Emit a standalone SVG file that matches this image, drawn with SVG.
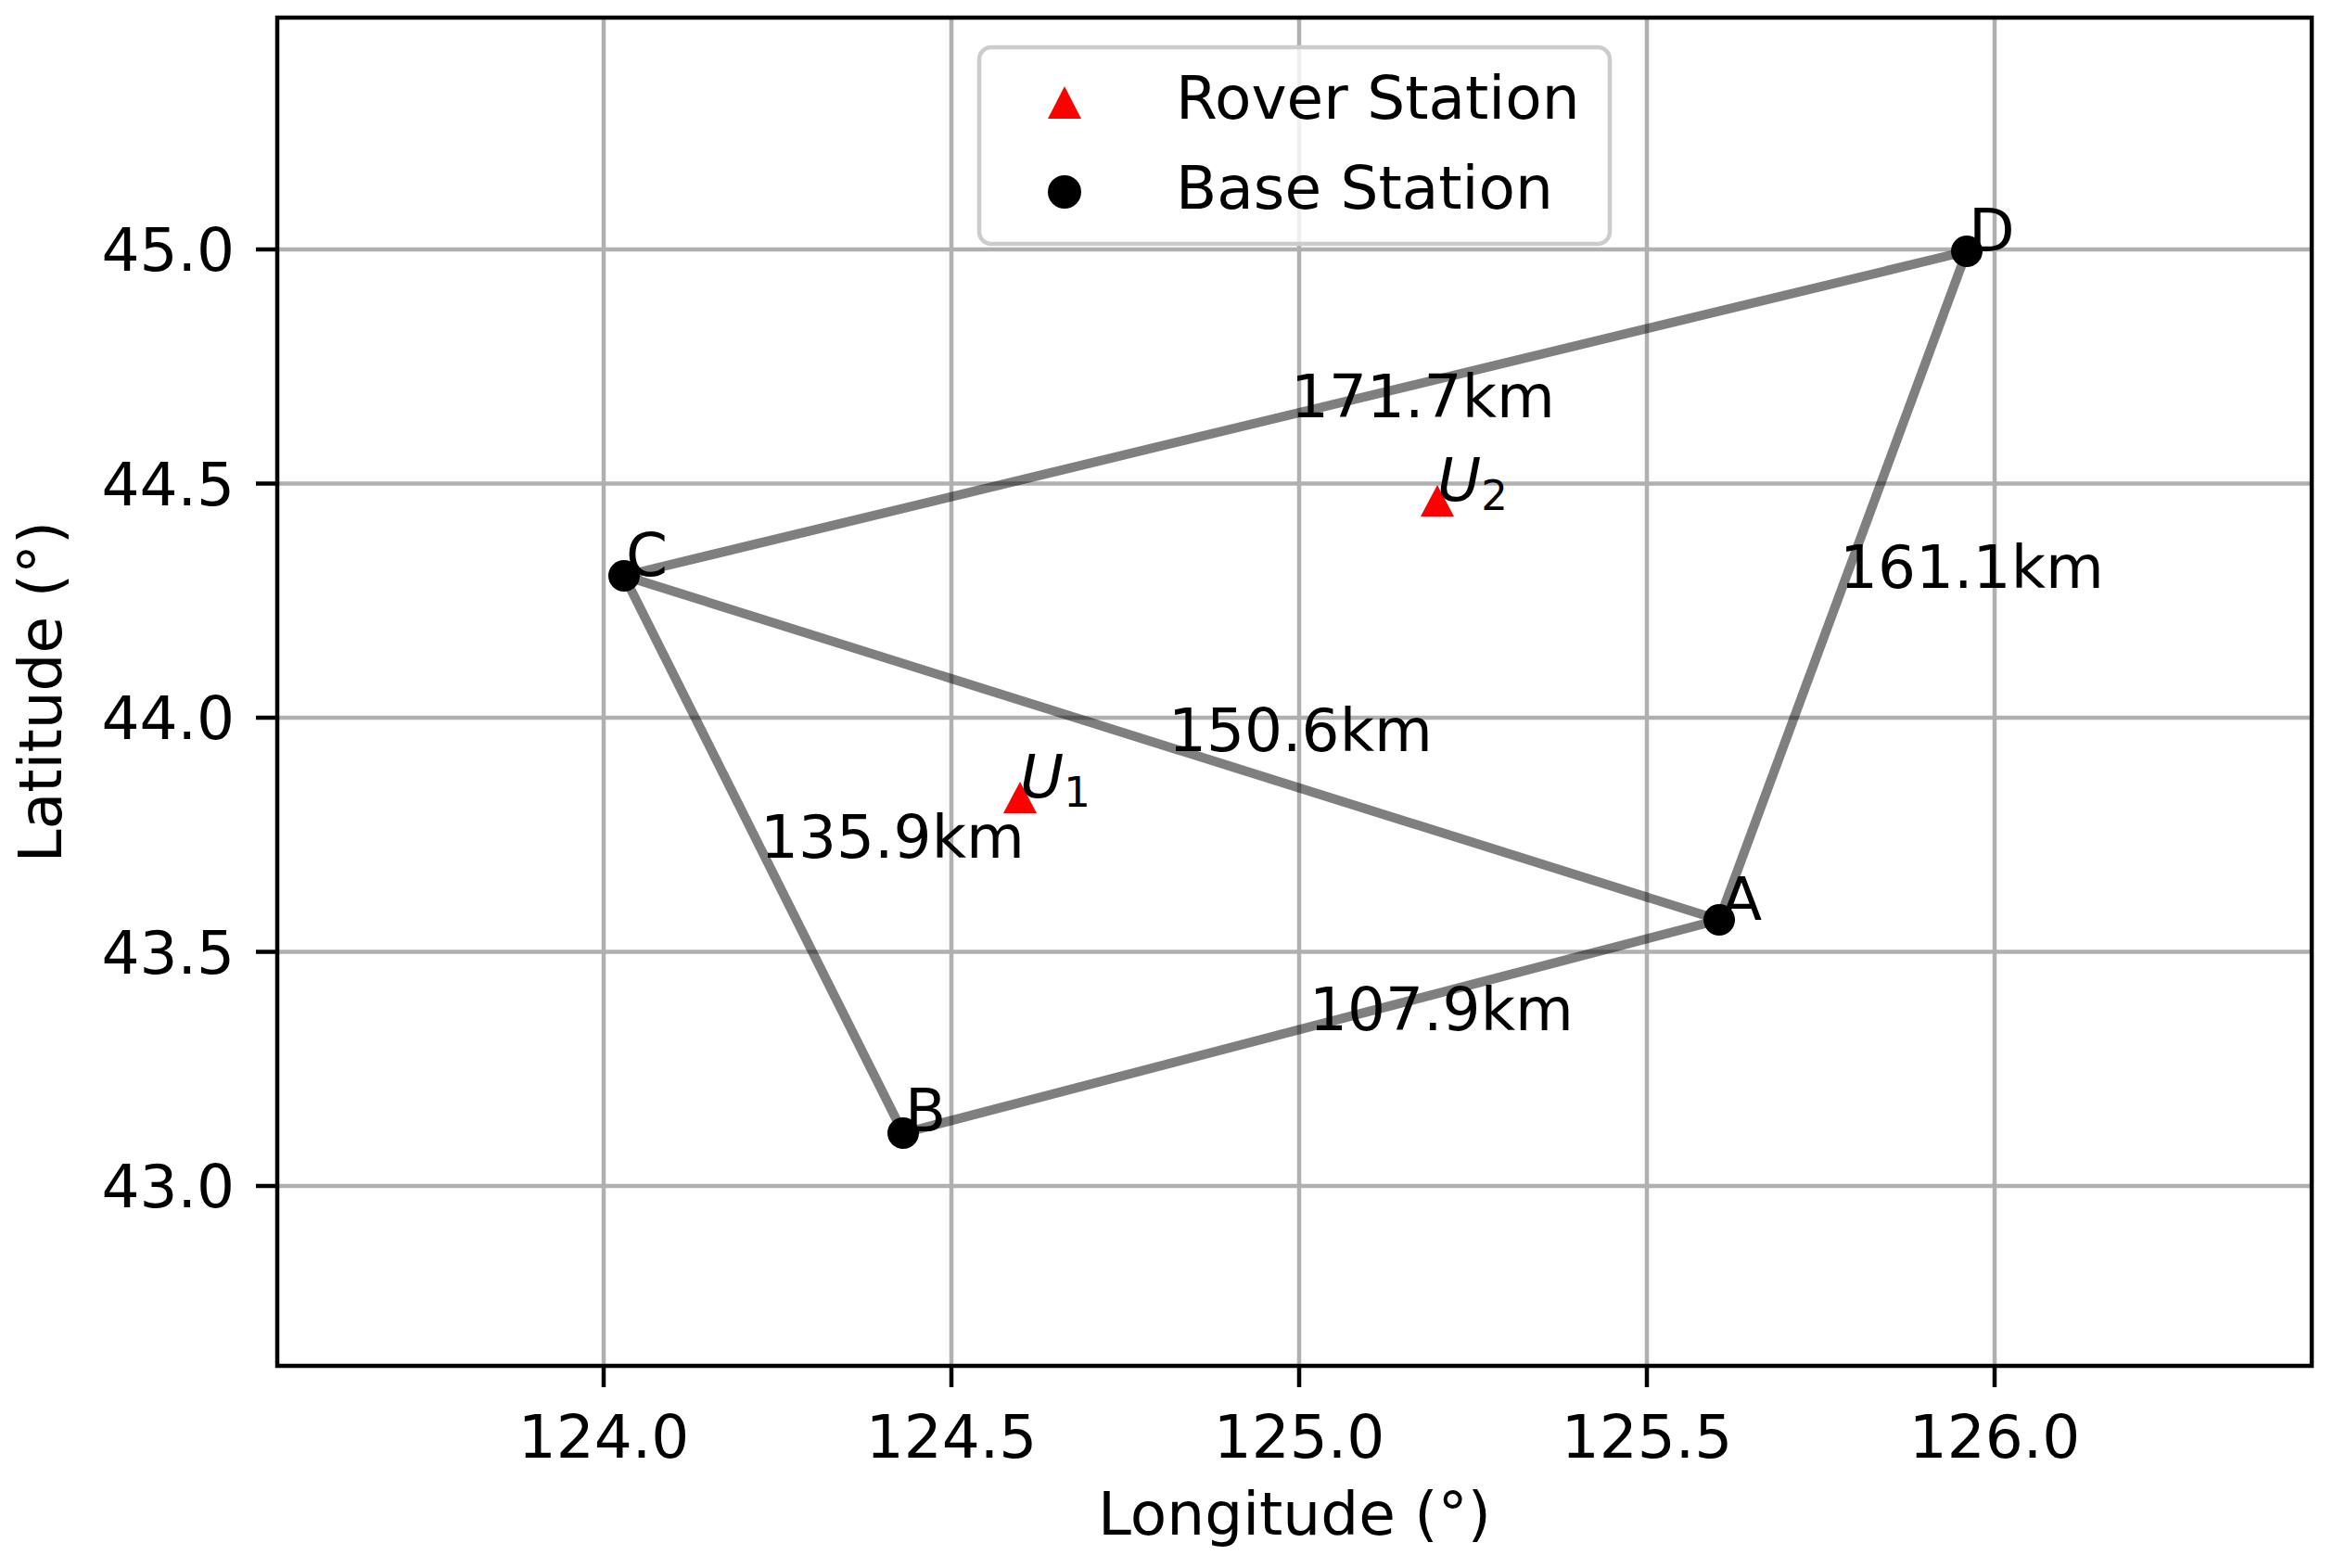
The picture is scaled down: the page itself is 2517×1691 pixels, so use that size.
<svg xmlns="http://www.w3.org/2000/svg" width="2517" height="1691" viewBox="0 0 2517 1691">
<style>
text{font-family:"DejaVu Sans","Liberation Sans",sans-serif;font-size:64.5px;fill:#000}
.grid{stroke:#b0b0b0;stroke-width:4.5;fill:none}
.tick{stroke:#000;stroke-width:4.5}
.edge{stroke:#000;stroke-opacity:0.5;stroke-width:10;fill:none;stroke-linecap:butt}
.base{fill:#000}
.rover{fill:#ff0000}
.it{font-style:italic}
.sub{font-size:45px}
.xt{text-anchor:middle}
.yt{text-anchor:end}
</style>
<rect width="2517" height="1691" fill="#fff"/>
<g id="grid">
<line class="grid" x1="651" y1="19" x2="651" y2="1473"/>
<line class="grid" x1="1026" y1="19" x2="1026" y2="1473"/>
<line class="grid" x1="1401" y1="19" x2="1401" y2="1473"/>
<line class="grid" x1="1776" y1="19" x2="1776" y2="1473"/>
<line class="grid" x1="2151" y1="19" x2="2151" y2="1473"/>
<line class="grid" x1="299" y1="269" x2="2493" y2="269"/>
<line class="grid" x1="299" y1="521.5" x2="2493" y2="521.5"/>
<line class="grid" x1="299" y1="774" x2="2493" y2="774"/>
<line class="grid" x1="299" y1="1026.5" x2="2493" y2="1026.5"/>
<line class="grid" x1="299" y1="1279" x2="2493" y2="1279"/>
</g>
<g id="connectors">
<line class="edge" x1="673" y1="621" x2="2121" y2="271"/>
<line class="edge" x1="673" y1="621" x2="1854" y2="992"/>
<line class="edge" x1="673" y1="621" x2="974" y2="1222"/>
<line class="edge" x1="974" y1="1222" x2="1854" y2="992"/>
<line class="edge" x1="1854" y1="992" x2="2121" y2="271"/>
</g>
<g id="edge-labels">
<text x="1392" y="450">171.7km</text>
<text x="1260" y="810">150.6km</text>
<text x="820" y="925">135.9km</text>
<text x="1412" y="1111">107.9km</text>
<text x="1984" y="634">161.1km</text>
</g>
<g id="node-A"><circle class="base" cx="1854" cy="992" r="17"/><text x="1856" y="992">A</text></g>
<g id="node-B"><circle class="base" cx="974" cy="1222" r="17"/><text x="976" y="1220">B</text></g>
<g id="node-C"><circle class="base" cx="673" cy="621" r="17"/><text x="675" y="621">C</text></g>
<g id="node-D"><circle class="base" cx="2121" cy="271" r="17"/><text x="2123" y="271">D</text></g>
<g id="node-U1"><polygon class="rover" points="1100,843 1082,877 1118,877"/><text x="1100" y="860"><tspan class="it">U</tspan><tspan class="sub" dy="10">1</tspan></text></g>
<g id="node-U2"><polygon class="rover" points="1550,523 1532,557 1568,557"/><text x="1550" y="540"><tspan class="it">U</tspan><tspan class="sub" dy="10">2</tspan></text></g>
<g id="legend">
<rect x="1056" y="51" width="680" height="212" rx="13" fill="#fff" fill-opacity="0.8" stroke="#cccccc" stroke-width="4.5"/>
<polygon class="rover" points="1148,93 1130,128 1166,128"/>
<text x="1268" y="128">Rover Station</text>
<circle class="base" cx="1148" cy="207" r="18"/>
<text x="1268" y="225">Base Station</text>
</g>
<g id="axes">
<rect x="299" y="19" width="2194" height="1454" fill="none" stroke="#000" stroke-width="4.5"/>
<line class="tick" x1="651" y1="1473" x2="651" y2="1496"/>
<line class="tick" x1="1026" y1="1473" x2="1026" y2="1496"/>
<line class="tick" x1="1401" y1="1473" x2="1401" y2="1496"/>
<line class="tick" x1="1776" y1="1473" x2="1776" y2="1496"/>
<line class="tick" x1="2151" y1="1473" x2="2151" y2="1496"/>
<line class="tick" x1="276" y1="269" x2="299" y2="269"/>
<line class="tick" x1="276" y1="521.5" x2="299" y2="521.5"/>
<line class="tick" x1="276" y1="774" x2="299" y2="774"/>
<line class="tick" x1="276" y1="1026.5" x2="299" y2="1026.5"/>
<line class="tick" x1="276" y1="1279" x2="299" y2="1279"/>
<text class="xt" x="651" y="1572">124.0</text>
<text class="xt" x="1026" y="1572">124.5</text>
<text class="xt" x="1401" y="1572">125.0</text>
<text class="xt" x="1776" y="1572">125.5</text>
<text class="xt" x="2151" y="1572">126.0</text>
<text class="yt" x="253" y="292">45.0</text>
<text class="yt" x="253" y="544.5">44.5</text>
<text class="yt" x="253" y="797">44.0</text>
<text class="yt" x="253" y="1049.5">43.5</text>
<text class="yt" x="253" y="1302">43.0</text>
<text class="xt" x="1396" y="1655">Longitude (°)</text>
<text class="xt" transform="translate(66,746) rotate(-90)">Latitude (°)</text>
</g>
</svg>
